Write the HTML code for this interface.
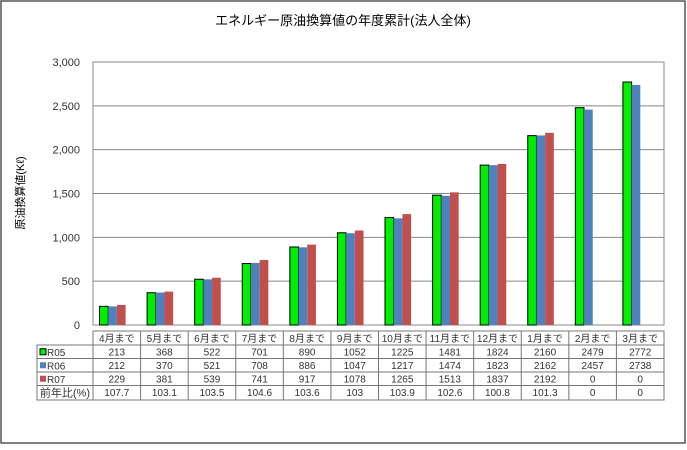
<!DOCTYPE html>
<html><head><meta charset="utf-8"><style>
body{margin:0;background:#fff;font-family:"Liberation Sans","Noto Sans CJK JP",sans-serif}
svg text{font-family:"Liberation Sans","Noto Sans CJK JP",sans-serif}
</style></head><body>
<svg id="c" width="687" height="445"></svg>
<script>
const categories=["4月まで","5月まで","6月まで","7月まで","8月まで","9月まで","10月まで","11月まで","12月まで","1月まで","2月まで","3月まで"];
const r05=[213,368,522,701,890,1052,1225,1481,1824,2160,2479,2772];
const r06=[212,370,521,708,886,1047,1217,1474,1823,2162,2457,2738];
const r07=[229,381,539,741,917,1078,1265,1513,1837,2192,0,0];
const ratio=["107.7","103.1","103.5","104.6","103.6","103","103.9","102.6","100.8","101.3","0","0"];
const yTicks=[0,500,1000,1500,2000,2500,3000];
const yTickLabels=["0","500","1,000","1,500","2,000","2,500","3,000"];
const NS="http://www.w3.org/2000/svg";
const svg=document.getElementById('c');
const L=93,R=664,T=62,B=325,YMAX=3000;
const cw=(R-L)/categories.length;
function y(v){return B-(v/YMAX)*(B-T);}
function x(i){return L+i*cw;}
function mk(t,a,txt){const e=document.createElementNS(NS,t);for(const k in a)e.setAttribute(k,a[k]);if(txt!==undefined)e.textContent=txt;svg.appendChild(e);return e;}
let e;
e=mk('rect',{x:1,y:1,width:684,height:442,fill:'#fff',stroke:'#555','stroke-width':1.5});

e=mk('text',{x:343,y:25,'text-anchor':'middle','font-size':13},'エネルギー原油換算値の年度累計(法人全体)');

e=mk('text',{x:24,y:193,'text-anchor':'middle','font-size':11,transform:'rotate(-90 24 193)'},'原油換算値(Kℓ)');

e=mk('rect',{x:L,y:T,width:R-L,height:B-T,fill:'#fff',stroke:'#888'});

yTicks.forEach((v,i)=>{
  e=mk('line',{x1:L,x2:R,y1:y(v),y2:y(v),stroke:'#888'});
  
  e=mk('text',{x:80,y:y(v)+4,'text-anchor':'end','font-size':11,fill:'#333'},yTickLabels[i]);
  
});
const series=[[r05,'#00ee00','#000'],[r06,'#4f81bd','none'],[r07,'#c0504d','none']];
const bw=8.7,off=6.5;
categories.forEach((c,i)=>{
  series.forEach((s,j)=>{
    const v=s[0][i];if(!v)return;
    e=mk('rect',{x:x(i)+off+j*bw,y:y(v),width:bw,height:B-y(v),fill:s[1],stroke:s[2],'stroke-width':1});
    
  });
});
// table
const tT=331,rh=[14,13.5,13.5,13.5,14.5];
const rows=[null,r05,r06,r07,ratio];
let ry=tT;
const rowY=[];
rh.forEach(h=>{rowY.push(ry);ry+=h;});
const tB=ry;
e=mk('rect',{x:L,y:tT,width:R-L,height:tB-tT,fill:'none',stroke:'#777'});

e=mk('rect',{x:37,y:rowY[1],width:L-37,height:tB-rowY[1],fill:'none',stroke:'#777'});

for(let k=1;k<rowY.length;k++){e=mk('line',{x1:37,x2:R,y1:rowY[k],y2:rowY[k],stroke:'#777'});}
for(let i=1;i<categories.length;i++){e=mk('line',{x1:x(i),x2:x(i),y1:tT,y2:tB,stroke:'#777'});}
const labels=['R05','R06','R07'];
labels.forEach((l,j)=>{
  const cy=rowY[j+1]+rh[j+1]/2;
  e=mk('rect',{x:40,y:cy-3,width:6,height:6,fill:series[j][1],stroke:j==0?'#000':'none'});
  
  e=mk('text',{x:47,y:cy+4,'font-size':10,fill:'#333'},l);
  
});
e=mk('text',{x:90,y:rowY[4]+11,'text-anchor':'end','font-size':11,fill:'#333'},'前年比(%)');

categories.forEach((c,i)=>{
  const cx=x(i)+cw/2;
  e=mk('text',{x:cx,y:rowY[0]+11,'text-anchor':'middle','font-size':10,fill:'#333'},c);
  
  for(let k=1;k<5;k++){
    e=mk('text',{x:cx,y:rowY[k]+10.5,'text-anchor':'middle','font-size':10,fill:'#333'},String(rows[k][i]));
    
  }
});
</script>
</body></html>
